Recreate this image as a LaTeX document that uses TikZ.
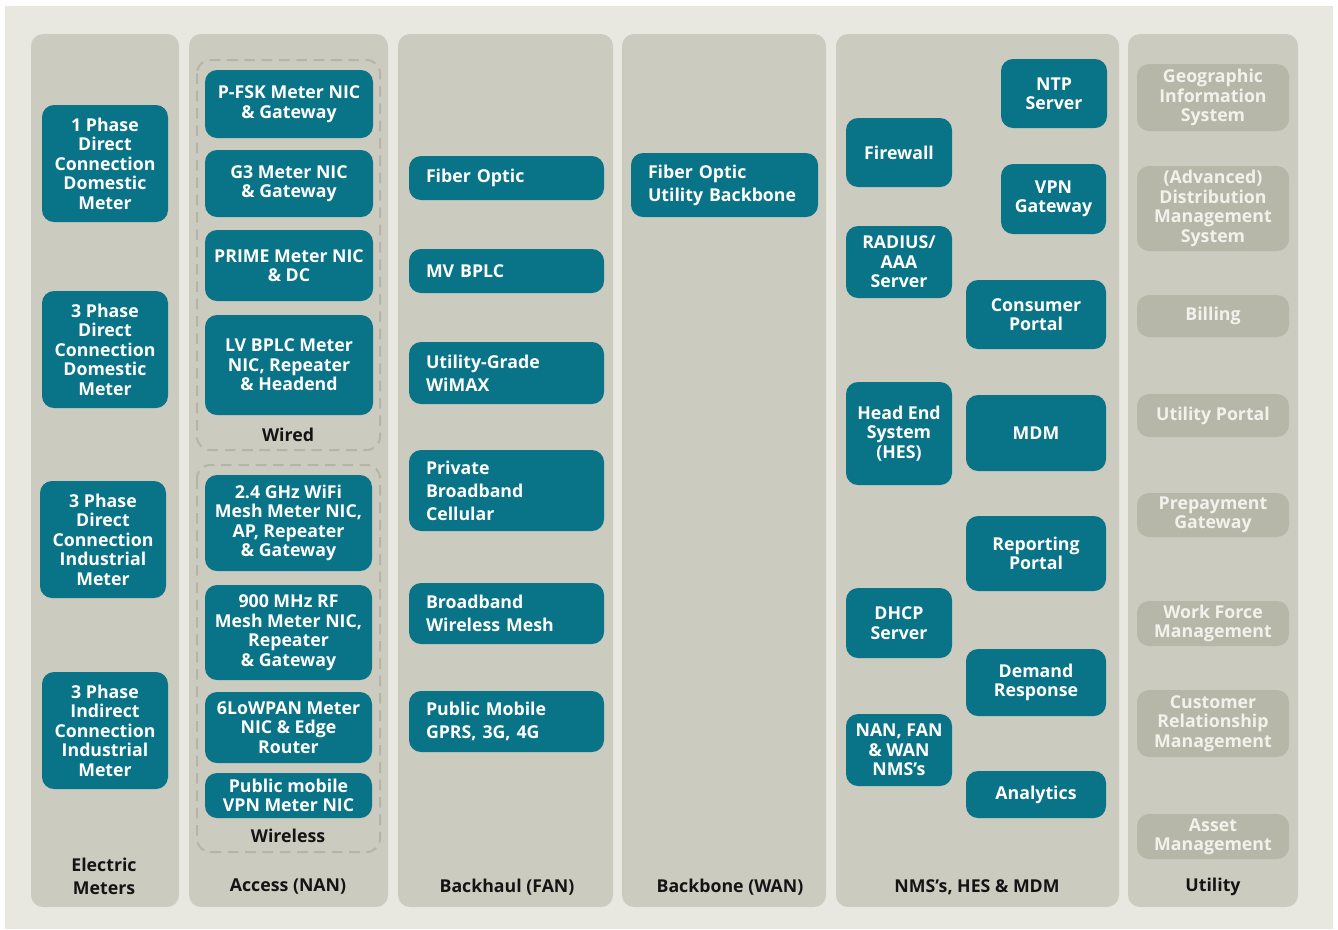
\documentclass[tikz,border=0pt]{standalone}
\usepackage{fontspec}
\setmainfont{Open Sans}
\definecolor{bgc}{RGB}{232,232,225}
\definecolor{colc}{RGB}{204,203,191}
\definecolor{teal}{RGB}{9,115,135}
\definecolor{utilc}{RGB}{183,183,169}
\definecolor{utilt}{RGB}{242,242,236}
\definecolor{dashc}{RGB}{180,180,167}
\definecolor{labc}{RGB}{20,20,20}
\tikzset{
  colbox/.style={fill=colc, draw=none, rounded corners=9pt},
  tbox/.style={fill=teal, draw=none, rounded corners=9pt, text=white, align=center, inner sep=0pt},
  lbox/.style={fill=teal, draw=none, rounded corners=9pt, text=white, align=left, inner ysep=0pt, font=\bfseries\fontsize{13.3}{17.25}\selectfont},
  ubox/.style={fill=utilc, draw=none, rounded corners=9pt, text=utilt, align=center, inner sep=0pt},
  grpbox/.style={draw=dashc, line width=1.5pt, dash pattern=on 8pt off 5pt, rounded corners=10pt},
  collabel/.style={text=labc, align=center, inner sep=0pt, font=\bfseries\fontsize{13.3}{17.25}\selectfont},
}
% \tb[style]{name}{x1}{y1}{x2}{y2}{text}: box given by its pixel corners
\newcommand\tb[7][tbox]{\node[#1,minimum width={(#5-#3)*0.75pt},minimum height={(#6-#4)*0.75pt}] (#2) at ({(#3+#5)/2},{(#4+#6)/2}) {#7};}
% \lb{name}{x1}{y1}{x2}{y2}{text}: left-aligned box
\newcommand\lb[6]{\node[lbox,inner xsep=12.75pt,text width={(#4-#2-34)*0.75pt},minimum height={(#5-#3)*0.75pt}] (#1) at ({(#2+#4)/2},{(#3+#5)/2+1}) {#6};}
\begin{document}
\begin{tikzpicture}[x=0.75pt,y=-0.75pt, font=\bfseries\fontsize{13.3}{14.6}\selectfont]
\useasboundingbox (0,0) rectangle (1338,929);
\fill[white] (0,0) rectangle (1338,929);
\fill[bgc] (5,6) rectangle (1333,929);
% columns
\fill[colbox] (31,34) rectangle (179,907);
\fill[colbox] (189,34) rectangle (388,907);
\fill[colbox] (398,34) rectangle (613,907);
\fill[colbox] (622,34) rectangle (826,907);
\fill[colbox] (836,34) rectangle (1119,907);
\fill[colbox] (1128,34) rectangle (1298,907);
% column labels
\node[collabel] (lab1) at (104,876) {Electric\\Meters};
\node[collabel] (lab2) at (288,887) {Access (NAN)};
\node[collabel] (lab3) at (507,887) {Backhaul (FAN)};
\node[collabel] (lab4) at (730,887) {Backbone (WAN)};
\node[collabel] (lab5) at (977,887) {NMS’s, HES \& MDM};
\node[collabel] (lab6) at (1213,887) {Utility};
% electric meters
\tb{em1}{42}{105}{168}{222}{1 Phase\\Direct\\Connection\\Domestic\\Meter}
\tb{em2}{42}{291}{168}{408}{3 Phase\\Direct\\Connection\\Domestic\\Meter}
\tb{em3}{40}{481}{166}{598}{3 Phase\\Direct\\Connection\\Industrial\\Meter}
\tb{em4}{42}{672}{168}{789}{3 Phase\\Indirect\\Connection\\Industrial\\Meter}
% access groups
\draw[grpbox] (197,60) rectangle (380,450);
\draw[grpbox] (197,465) rectangle (380,852);
\node[collabel] (wired) at (288,435) {Wired};
\node[collabel] (wireless) at (288,836) {Wireless};
\tb{a1}{205}{70}{373}{138}{P-FSK Meter NIC\\\& Gateway}
\tb{a2}{205}{150}{373}{217}{G3 Meter NIC\\\& Gateway}
\tb{a3}{205}{230}{373}{301}{PRIME Meter NIC\\\& DC}
\tb{a4}{205}{315}{373}{415}{LV BPLC Meter\\NIC, Repeater\\\& Headend}
\tb{a5}{205}{475}{372}{571}{2.4 GHz WiFi\\Mesh Meter NIC,\\AP, Repeater\\\& Gateway}
\tb{a6}{205}{585}{372}{680}{900 MHz RF\\Mesh Meter NIC,\\Repeater\\\& Gateway}
\tb{a7}{205}{692}{372}{763}{6LoWPAN Meter\\NIC \& Edge\\Router}
\tb{a8}{205}{773}{372}{818}{Public mobile\\VPN Meter NIC}
% backhaul
\lb{b1}{409}{155}{604}{199}{Fiber Optic}
\lb{b2}{409}{248}{604}{292}{MV BPLC}
\lb{b3}{409}{341}{604}{403}{Utility-Grade\\WiMAX}
\lb{b4}{409}{449}{604}{530}{Private\\Broadband\\Cellular}
\lb{b5}{409}{582}{604}{643}{Broadband\\Wireless Mesh}
\lb{b6}{409}{690}{604}{751}{Public Mobile\\GPRS, 3G, 4G}
% backbone
\lb{w1}{631}{152}{818}{216}{Fiber Optic\\Utility Backbone}
% NMS
\tb{n1}{1001}{59}{1107}{128}{NTP\\Server}
\tb{n2}{846}{118}{952}{187}{Firewall}
\tb{n3}{1001}{164}{1106}{234}{VPN\\Gateway}
\tb{n4}{846}{226}{952}{298}{RADIUS/\\AAA\\Server}
\tb{n5}{966}{280}{1106}{349}{Consumer\\Portal}
\tb{n6}{846}{382}{952}{485}{Head End\\System\\(HES)}
\tb{n7}{966}{395}{1106}{471}{MDM}
\tb{n8}{966}{516}{1106}{591}{Reporting\\Portal}
\tb{n9}{846}{588}{952}{658}{DHCP\\Server}
\tb{n10}{966}{649}{1106}{716}{Demand\\Response}
\tb{n11}{846}{714}{952}{786}{NAN, FAN\\\& WAN\\NMS’s}
\tb{n12}{966}{771}{1106}{818}{Analytics}
% utility
\tb[ubox]{u1}{1137}{64}{1289}{131}{Geographic\\Information\\System}
\tb[ubox]{u2}{1137}{166}{1289}{251}{(Advanced)\\Distribution\\Management\\System}
\tb[ubox]{u3}{1137}{295}{1289}{337}{Billing}
\tb[ubox]{u4}{1137}{394}{1289}{437}{Utility Portal}
\tb[ubox]{u5}{1137}{493}{1289}{537}{Prepayment\\Gateway}
\tb[ubox]{u6}{1137}{601}{1289}{646}{Work Force\\Management}
\tb[ubox]{u7}{1137}{690}{1289}{757}{Customer\\Relationship\\Management}
\tb[ubox]{u8}{1137}{814}{1289}{859}{Asset\\Management}
\end{tikzpicture}
\end{document}
